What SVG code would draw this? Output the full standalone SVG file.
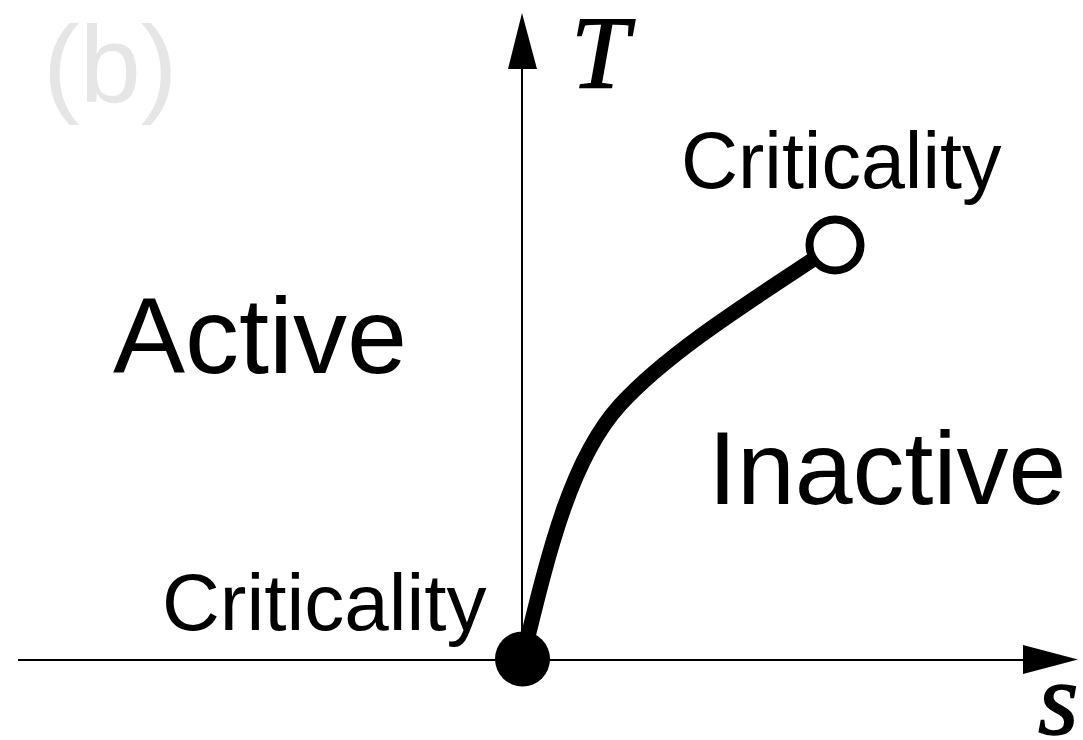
<svg xmlns="http://www.w3.org/2000/svg" width="1083" height="740" viewBox="0 0 1083 740">
<style>
.axis{stroke:#000;stroke-width:2;fill:none}
.head{fill:#000;stroke:none}
.lbl{font-family:"Liberation Sans",Arial,sans-serif;fill:#000}
.var{font-family:"Liberation Serif","Times New Roman",serif;font-style:italic;fill:#000;stroke:#000;stroke-width:1.5}
</style>
<rect width="1083" height="740" fill="#fff"/>
<text x="43" y="102" font-size="110" fill="#e6e6e6" font-family="Liberation Sans, Arial, sans-serif">(b)</text>
<g id="connectors">
<line class="axis" x1="18" y1="660" x2="1025" y2="660"/>
<polygon class="head" points="1078,659.5 1023,645 1023,674"/>
<line class="axis" x1="522" y1="660" x2="522" y2="67"/>
<polygon class="head" points="522,13 508,69 537,69"/>
<path d="M523,657 C548,555 570,460 620,405 C670,350 760,295 835,245" fill="none" stroke="#000" stroke-width="15"/>
</g>
<g id="axis-labels">
<text class="var" x="571" y="88" font-size="104">T</text>
<text class="var" x="1038" y="734" font-size="104">s</text>
</g>
<g id="node-critical-low">
<circle cx="522.5" cy="659" r="27.5" fill="#000"/>
<text class="lbl" x="162" y="630" font-size="80">Criticality</text>
</g>
<g id="node-critical-high">
<circle cx="835" cy="245" r="25.5" fill="#fff" stroke="#000" stroke-width="8"/>
<text class="lbl" x="681" y="188" font-size="79">Criticality</text>
</g>
<g id="region-active">
<text class="lbl" x="113" y="373" font-size="108">Active</text>
</g>
<g id="region-inactive">
<text class="lbl" x="708" y="504" font-size="104">Inactive</text>
</g>
</svg>
